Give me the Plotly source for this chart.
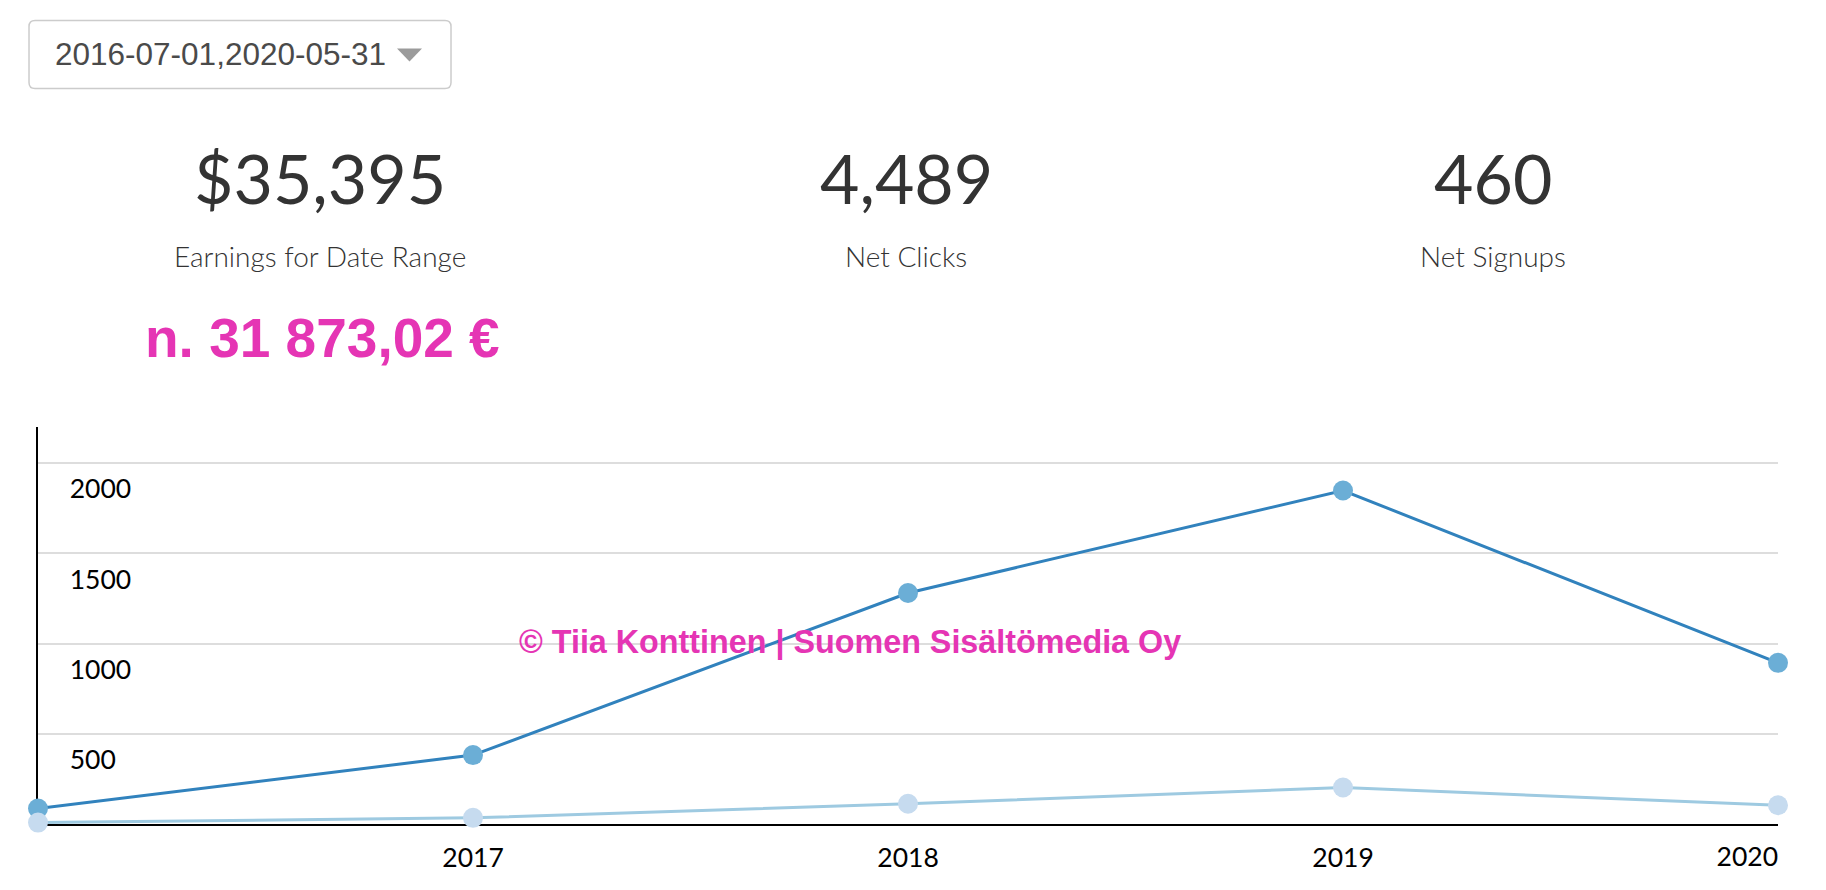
import plotly.graph_objects as go

# ---- data ----
years = [2016, 2017, 2018, 2019, 2020]
clicks = [86, 382, 1280, 1848, 893]
signups = [8, 34, 112, 202, 104]
y_ticks = [500, 1000, 1500, 2000]
x_ticks_main = [2017, 2018, 2019]
x_tick_last = [2020]

date_range_label = "2016-07-01,2020-05-31"
kpi_values = ["$35,395", "4,489", "460"]
kpi_labels = ["Earnings for Date Range", "Net Clicks", "Net Signups"]
eur_note = "n. 31 873,02 €"
watermark = "© Tiia Konttinen | Suomen Sisältömedia Oy"

# ---- layout geometry (page has an 8px body margin) ----
OFF = 8
W, H = 1826, 890
L, R, T, B = 30, 56, 419, 73.5
PW, PH = W - L - R, H - T - B


def px(x):
    return (x - OFF - L) / PW


def py(y):
    return (H - B - (y - OFF)) / PH


PINK = "#e535b4"
GEO = "Lato"

fig = go.Figure()
fig.add_trace(go.Scatter(
    x=years, y=clicks, mode="lines+markers", name="Clicks",
    line=dict(color="#3182bd", width=3),
    marker=dict(color="#6baed6", size=20),
    cliponaxis=False, hoverinfo="x+y",
))
fig.add_trace(go.Scatter(
    x=years, y=signups, mode="lines+markers", name="Signups", xaxis="x2",
    line=dict(color="#9ecae1", width=3),
    marker=dict(color="#c6dbef", size=20),
    cliponaxis=False, hoverinfo="x+y",
))

annotations = []
col_centers = [320, 906, 1493]
for cx, v, lab in zip(col_centers, kpi_values, kpi_labels):
    annotations.append(dict(
        x=px(cx), y=py(177), xref="paper", yref="paper", text=v, showarrow=False,
        xanchor="center", yanchor="middle",
        font=dict(family=GEO, size=68, color="#333333", weight=400),
    ))
    annotations.append(dict(
        x=px(cx), y=py(256), xref="paper", yref="paper", text=lab, showarrow=False,
        xanchor="center", yanchor="middle",
        font=dict(family=GEO, size=28, color="#333333", weight=300),
    ))
annotations.append(dict(
    x=px(322), y=py(338), xref="paper", yref="paper", text=eur_note, showarrow=False,
    xanchor="center", yanchor="middle",
    font=dict(family="Liberation Sans, Arial", size=55, color=PINK, weight=700),
))
annotations.append(dict(
    x=px(850), y=py(642), xref="paper", yref="paper", text=watermark, showarrow=False,
    xanchor="center", yanchor="middle",
    font=dict(family="Liberation Sans, Arial", size=32.3, color=PINK, weight=700),
))
annotations.append(dict(
    x=px(53), y=py(54), xref="paper", yref="paper", text=date_range_label, showarrow=False,
    xanchor="left", yanchor="middle",
    font=dict(family="Liberation Sans, Arial", size=31.5, color="#4a4a4a"),
))

# rounded dropdown box
x0, y0, x1, y1, r = 29, 20, 451, 88, 6
pts = [
    ("M", [(x0 + r, y0)]),
    ("L", [(x1 - r, y0)]),
    ("Q", [(x1, y0), (x1, y0 + r)]),
    ("L", [(x1, y1 - r)]),
    ("Q", [(x1, y1), (x1 - r, y1)]),
    ("L", [(x0 + r, y1)]),
    ("Q", [(x0, y1), (x0, y1 - r)]),
    ("L", [(x0, y0 + r)]),
    ("Q", [(x0, y0), (x0 + r, y0)]),
]
path = ""
for cmd, ps in pts:
    path += cmd + " " + " ".join(f"{px(a):.5f},{py(b):.5f}" for a, b in ps) + " "
path += "Z"

tri = f"M {px(397):.5f},{py(48):.5f} L {px(422):.5f},{py(48):.5f} L {px(409.5):.5f},{py(61):.5f} Z"

shapes = [
    dict(type="path", path=path, xref="paper", yref="paper",
         line=dict(color="#cccccc", width=1.5), fillcolor="white", layer="below"),
    dict(type="path", path=tri, xref="paper", yref="paper",
         line=dict(width=0), fillcolor="#9b9b9b"),
]

axis_font = dict(family=GEO, size=26.5, color="#000000")

fig.update_layout(
    width=W, height=H,
    margin=dict(l=L, r=R, t=T, b=B, pad=0),
    paper_bgcolor="white", plot_bgcolor="white",
    showlegend=False,
    annotations=annotations,
    shapes=shapes,
    xaxis=dict(
        range=[years[0], years[-1]], tickvals=x_ticks_main,
        ticktext=[str(v) for v in x_ticks_main],
        showgrid=False, zeroline=False,
        showline=True, linecolor="#000000", linewidth=2,
        ticks="", tickfont=axis_font, ticklabelstandoff=9,
        layer="below traces", fixedrange=True,
    ),
    xaxis2=dict(
        range=[years[0], years[-1]], overlaying="x", anchor="y", side="bottom",
        tickvals=x_tick_last, ticktext=[str(v) for v in x_tick_last],
        ticklabelposition="outside left",
        showgrid=False, zeroline=False, showline=False,
        ticks="", tickfont=axis_font, ticklabelstandoff=14,
        layer="below traces", fixedrange=True,
    ),
    yaxis=dict(
        range=[0, 2200], tickvals=y_ticks, ticktext=[str(v) for v in y_ticks],
        showgrid=True, gridcolor="#dddddd", gridwidth=2,
        zeroline=False, showline=True, linecolor="#000000", linewidth=2,
        ticks="", ticklabelposition="inside", ticklabelshift=26,
        ticklabelstandoff=34, tickfont=axis_font,
        layer="below traces", fixedrange=True,
    ),
)

fig.write_html("out.html")
